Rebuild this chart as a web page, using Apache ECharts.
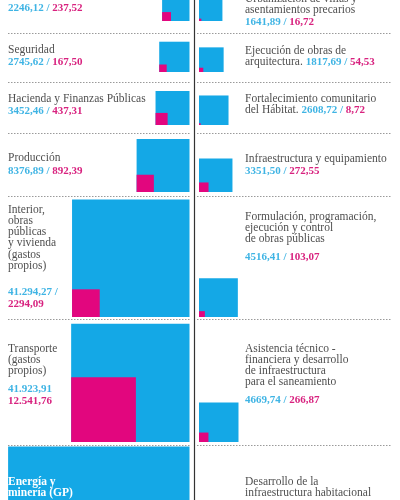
<!DOCTYPE html>
<html>
<head>
<meta charset="utf-8">
<script src="https://cdn.jsdelivr.net/npm/echarts@6/dist/echarts.min.js"></script>
<style>
  html, body { margin: 0; padding: 0; background: #fff; }
  #chart { width: 400px; height: 500px; }
</style>
</head>
<body>
<div id="chart"></div>
<script>
// presupuesto por programa: celeste = asignado, magenta = ejecutado
const leftNames = [
  "Cultura",
  "Seguridad",
  "Hacienda y Finanzas Públicas",
  "Producción",
  "Interior,\nobras\npúblicas\ny vivienda\n(gastos\npropios)",
  "Transporte\n(gastos\npropios)",
  "Energía y\nminería (GP)",
];
const leftBlue = [2246.12, 2745.62, 3452.46, 8376.89, 41294.27, 41923.91, 98500];
const leftPink = [237.52, 167.5, 437.31, 892.39, 2294.09, 12541.76, null];

const rightNames = [
  "Urbanización de villas y\nasentamientos precarios",
  "Ejecución de obras de\narquitectura.",
  "Fortalecimiento comunitario\ndel Hábitat.",
  "Infraestructura y equipamiento",
  "Formulación, programación,\nejecución y control\nde obras públicas",
  "Asistencia técnico -\nfinanciera y desarrollo\nde infraestructura\npara el saneamiento",
  "Desarrollo de la\ninfraestructura habitacional",
];
const rightBlue = [1641.89, 1817.69, 2608.72, 3351.5, 4516.41, 4669.74, null];
const rightPink = [16.72, 54.53, 8.72, 272.55, 103.07, 266.87, null];

const BLUE = "#14a8e6";
const PINK = "#e2067e";
const GRAY = "#4f4f4f";
const FONT = "Liberation Serif";

// layout in px (grid spans the whole canvas, 1 axis unit = 1 px)
const rowBottom = [21, 72, 125, 192, 317, 442, 628];
const rules = [33, 82, 133, 196, 319, 445];
const leftEdge = 189.5;
const rightStart = 199;
const sqScale = 0.578; // px per sqrt(value)

const leftLabelY = [-4, 50, 99, 158, 210, 349, 482];
const leftNumY = [8, 62, 111, 171, 292, 389, null];
const leftNumMode = ["line", "line", "line", "line", "slashBreak", "break", "none"];
const rightLabelY = [-1, 51, 99, 159, 217, 349, 482];
const rightNumY = [22, null, null, 171, 257, 400, null];
const rightNumMode = ["line", "inline", "inline", "line", "line", "line", "none"];

function fmt(v) {
  let [i, d] = v.toFixed(2).split(".");
  if (i.length > 4) i = i.replace(/\B(?=(\d{3})+(?!\d))/g, ".");
  return i + "," + d;
}

function numText(b, p, mode) {
  if (mode === "slashBreak") return `{b|${fmt(b)} /}\n{m|${fmt(p)}}`;
  if (mode === "break") return `{b|${fmt(b)}}\n{m|${fmt(p)}}`;
  return `{b|${fmt(b)}}{s| / }{m|${fmt(p)}}`;
}

const rich = {
  b: { fill: "#3fb4e4", fontWeight: "bold", fontFamily: FONT, fontSize: 11, lineHeight: 12 },
  m: { fill: "#d8227f", fontWeight: "bold", fontFamily: FONT, fontSize: 11, lineHeight: 12 },
  s: { fill: "#3fb4e4", fontWeight: "bold", fontFamily: FONT, fontSize: 11, lineHeight: 12 },
};

const squareData = [];
leftBlue.forEach((v, i) => v != null && squareData.push([0, i, v, leftPink[i] == null ? "-" : leftPink[i]]));
rightBlue.forEach((v, i) => v != null && squareData.push([1, i, v, rightPink[i] == null ? "-" : rightPink[i]]));

const labelData = [];
leftNames.forEach((n, i) => labelData.push([0, i]));
rightNames.forEach((n, i) => labelData.push([1, i]));

function renderSquare(params, api) {
  const col = api.value(0), row = api.value(1);
  const blue = api.value(2), pink = api.value(3);
  const bottom = rowBottom[row];
  const side = sqScale * Math.sqrt(blue);
  const x0 = col === 0 ? leftEdge - side : rightStart;
  const a = api.coord([x0, bottom]);
  const b = api.coord([x0 + side, bottom - side]);
  const children = [{
    type: "rect",
    shape: { x: a[0], y: b[1], width: b[0] - a[0], height: a[1] - b[1] },
    style: { fill: BLUE },
  }];
  if (!isNaN(pink)) {
    const ps = sqScale * Math.sqrt(pink);
    const c = api.coord([x0 + ps, bottom - ps]);
    children.push({
      type: "rect",
      shape: { x: a[0], y: c[1], width: c[0] - a[0], height: a[1] - c[1] },
      style: { fill: PINK },
    });
  }
  return { type: "group", children };
}

function renderLabel(params, api) {
  const col = api.value(0), row = api.value(1);
  const names = col === 0 ? leftNames : rightNames;
  const blues = col === 0 ? leftBlue : rightBlue;
  const pinks = col === 0 ? leftPink : rightPink;
  const labelY = col === 0 ? leftLabelY : rightLabelY;
  const numY = col === 0 ? leftNumY : rightNumY;
  const mode = (col === 0 ? leftNumMode : rightNumMode)[row];
  const x = col === 0 ? 8 : 245;
  const inside = col === 0 && row === 6;
  const children = [];
  let label = names[row];
  if (mode === "inline") label += " " + numText(blues[row], pinks[row], "line");
  const p = api.coord([x, labelY[row] - 5.75]);
  children.push({
    type: "text",
    x: p[0], y: p[1],
    style: {
      text: label, rich,
      fill: inside ? "#fff" : GRAY,
      fontFamily: FONT, fontSize: 11.5,
      fontWeight: inside ? "bold" : "normal",
      lineHeight: 11.2, verticalAlign: "top",
    },
    z2: 10,
  });
  if (mode !== "inline" && mode !== "none") {
    const q = api.coord([x, numY[row] - 6]);
    children.push({
      type: "text",
      x: q[0], y: q[1],
      style: {
        text: numText(blues[row], pinks[row], mode), rich,
        fontFamily: FONT, fontSize: 11, lineHeight: 12, verticalAlign: "top",
      },
      z2: 10,
    });
  }
  return { type: "group", children };
}

const graphics = [{
  type: "line",
  shape: { x1: 194.5, y1: 0, x2: 194.5, y2: 500 },
  style: { stroke: "#333", lineWidth: 1.2 },
}];
rules.forEach((y) => {
  graphics.push({ type: "line", shape: { x1: 8, y1: y + 0.5, x2: 191, y2: y + 0.5 },
    style: { stroke: "#9a9a9a", lineWidth: 1, lineDash: [1.5, 1.5] } });
  graphics.push({ type: "line", shape: { x1: 197, y1: y + 0.5, x2: 392, y2: y + 0.5 },
    style: { stroke: "#9a9a9a", lineWidth: 1, lineDash: [1.5, 1.5] } });
});

const option = {
  animation: false,
  backgroundColor: "#fff",
  grid: { left: 0, right: 0, top: 0, bottom: 0 },
  xAxis: { type: "value", min: 0, max: 400, show: false },
  yAxis: { type: "value", min: 0, max: 500, inverse: true, show: false },
  graphic: graphics,
  series: [
    { type: "custom", renderItem: renderSquare, data: squareData, clip: false, z: 2 },
    { type: "custom", renderItem: renderLabel, data: labelData, clip: false, z: 3 },
  ],
};

const chart = echarts.init(document.getElementById("chart"));
chart.setOption(option);
</script>
</body>
</html>
